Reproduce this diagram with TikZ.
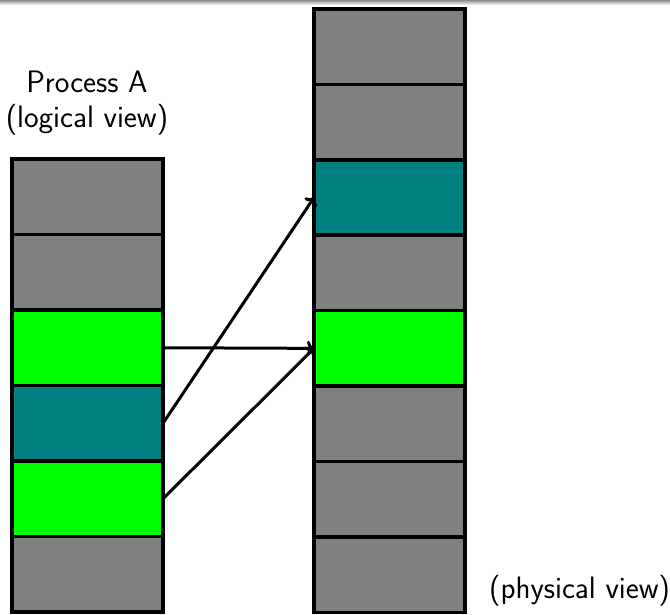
\documentclass[tikz,border=0pt]{standalone}
\usetikzlibrary{arrows.meta}
\definecolor{cellgray}{RGB}{128,128,128}
\definecolor{cellgreen}{RGB}{0,255,0}
\definecolor{cellteal}{RGB}{0,128,128}
\begin{document}
\begin{tikzpicture}[x=1pt,y=-1pt,
  cell/.style={draw=black,line width=3.6pt,minimum width=151pt,minimum height=75.5pt,inner sep=0pt,outer sep=0pt},
  free/.style={cell,fill=cellgray},
  used/.style={cell,fill=cellgreen},
  code/.style={cell,fill=cellteal},
  map/.style={line width=3pt,-{To[length=7pt,width=15pt]}},
  lbl/.style={font=\sffamily\fontsize{31}{35}\selectfont,align=center}]
\useasboundingbox (0,0) rectangle (670,614);
% frame edge shading
\shade[top color=black!45,bottom color=white] (0,0) rectangle (670,5);
% logical pages of process A
\foreach \i/\s in {0/free,1/free,2/used,3/code,4/used,5/free}
  \node[\s,anchor=north west] (L\i) at (12,159+75.5*\i) {};
% physical frames
\foreach \i/\s in {0/free,1/free,2/code,3/free,4/used,5/free,6/free,7/free}
  \node[\s,anchor=north west] (P\i) at (314,9+75.4*\i) {};
% mappings
\draw[map] (L2.east) -- (P4.west);
\draw[map] (L3.east) -- (P2.west);
\draw[map] (L4.east) -- (P4.west);
% labels
\node[lbl] (la) at (87,103) {Process A\\(logical view)};
\node[lbl,anchor=base west,inner sep=0pt] (lp) at (489,598) {(physical view)};
\end{tikzpicture}
\end{document}
